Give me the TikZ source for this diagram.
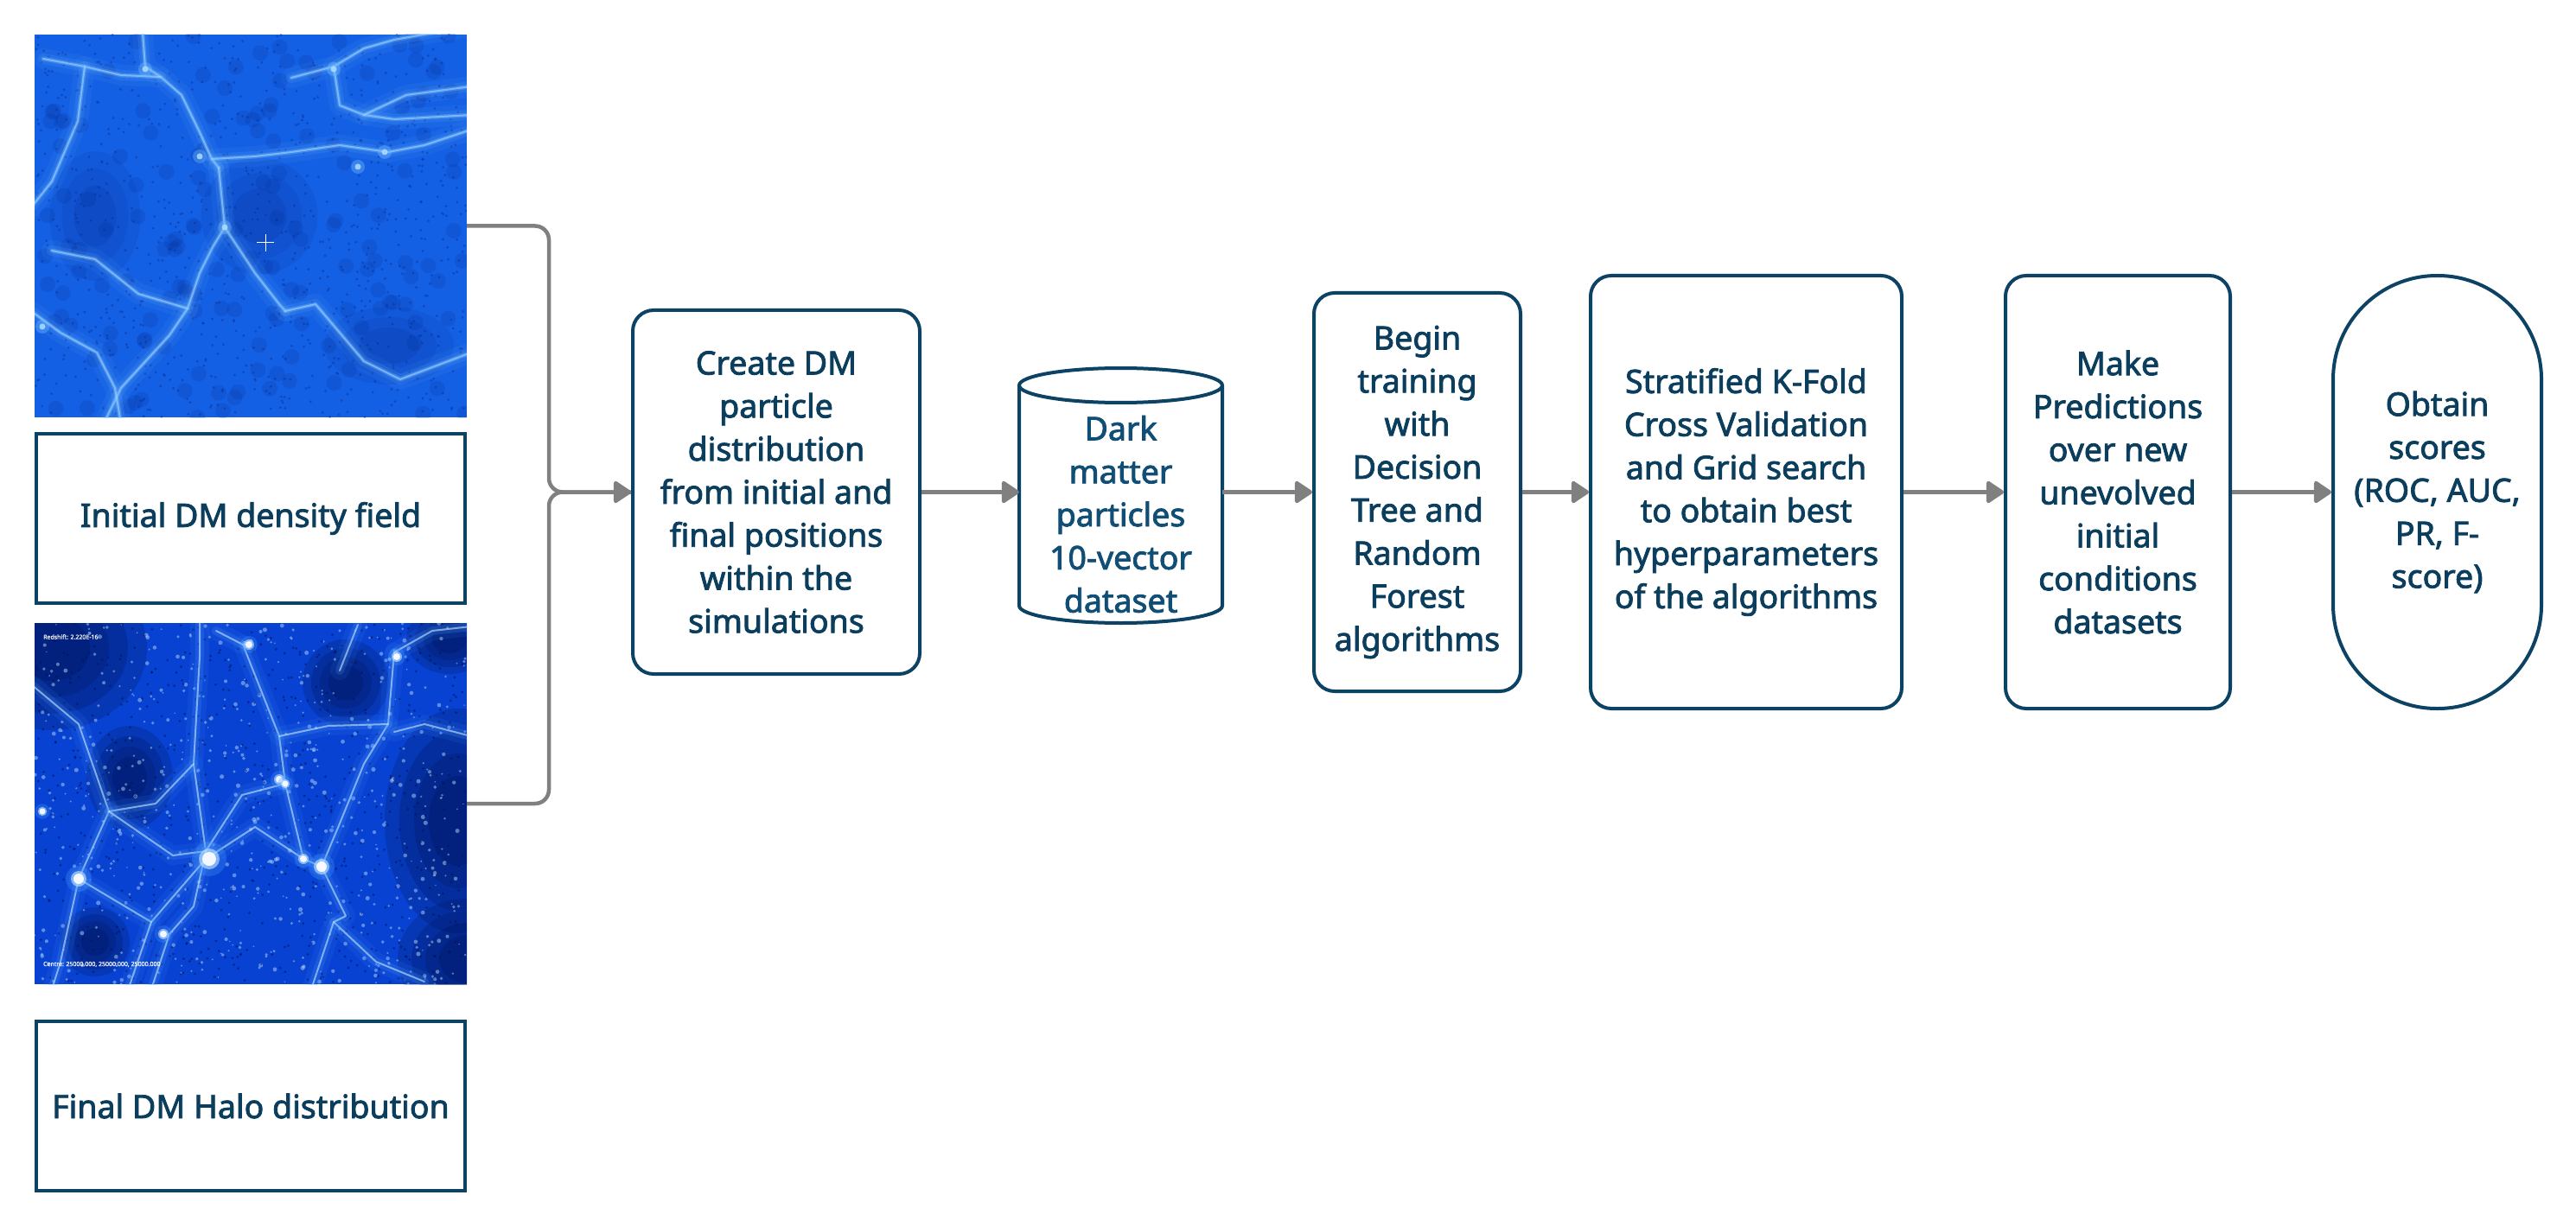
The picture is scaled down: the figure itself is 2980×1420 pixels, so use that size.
\documentclass[tikz,border=0pt]{standalone}
\usepackage{fontspec}
\setmainfont{Noto Sans}[UprightFeatures={FakeBold=2.2}]
\usetikzlibrary{arrows.meta}
\definecolor{textc}{RGB}{11,62,93}
\definecolor{boxc}{RGB}{12,66,100}
\definecolor{cylc}{RGB}{17,78,118}
\definecolor{flowc}{RGB}{128,128,128}
\definecolor{imgA}{RGB}{20,96,228}
\definecolor{imgAdark}{RGB}{6,45,150}
\definecolor{filA}{RGB}{110,185,255}
\definecolor{filAb}{RGB}{175,220,255}
\definecolor{imgB}{RGB}{8,66,210}
\definecolor{imgBdark}{RGB}{0,16,80}
\definecolor{filB}{RGB}{70,150,255}
\definecolor{filBb}{RGB}{200,232,255}
\tikzset{
  txt/.style={text=textc, align=center, font=\fontsize{37.5pt}{49.8pt}\selectfont, inner sep=0pt},
  procbox/.style={txt, draw=boxc, line width=4pt, rounded corners=24pt},
  labelbox/.style={txt, draw=boxc, line width=4pt},
  flow/.style={draw=flowc, line width=4.5pt, -{Triangle[length=22pt,width=28pt,round]}},
  flowplain/.style={draw=flowc, line width=4.5pt},
  imgnode/.style={inner sep=0pt, draw=none},
  haloA/.style={draw=filA, line width=24pt, opacity=0.07, line cap=round, line join=round},
  glowA/.style={draw=filA, line width=12pt, opacity=0.14, line cap=round, line join=round},
  midA/.style={draw=filA, line width=5pt, opacity=0.35, line cap=round, line join=round},
  coreA/.style={draw=filAb, line width=2pt, opacity=0.55, line cap=round, line join=round},
  haloB/.style={draw=filB, line width=22pt, opacity=0.10, line cap=round, line join=round},
  glowB/.style={draw=filB, line width=10pt, opacity=0.22, line cap=round, line join=round},
  coreB/.style={draw=filBb, line width=2pt, opacity=0.6, line cap=round, line join=round},
  darkB/.style={fill=imgBdark, opacity=0.22},
  tinytxt/.style={text=white, font=\fontsize{7pt}{8pt}\selectfont, inner sep=0pt, anchor=west, opacity=0.85}
}
\begin{document}
\begin{tikzpicture}[x=1pt,y=-1pt]
\useasboundingbox (0,0) rectangle (2980,1420);
\fill[white] (0,0) rectangle (2980,1420);

% ---------- top image: initial density field ----------
\node[imgnode, minimum width=500pt, minimum height=443pt, fill=imgA] (img1) at (290,261.5) {};
\begin{scope}
\clip (40,40) rectangle (540,483);
\pgfmathsetseed{4711}
\foreach \i in {1,...,900}{
  \pgfmathsetmacro{\px}{40+500*rnd}
  \pgfmathsetmacro{\py}{40+443*rnd}
  \fill[imgAdark, opacity=0.45] (\px,\py) circle[radius=1.6pt];
}
\foreach \i in {1,...,160}{
  \pgfmathsetmacro{\px}{40+500*rnd}
  \pgfmathsetmacro{\py}{40+443*rnd}
  \fill[imgAdark, opacity=0.18] (\px,\py) circle[radius=9pt];
}
\foreach \r/\o in {75/0.12,55/0.15,35/0.18}{
  \fill[imgAdark, opacity=\o] (450,400) ellipse[x radius=\r pt, y radius=0.6*\r pt];
  \fill[imgAdark, opacity=\o] (300,250) ellipse[x radius=0.9*\r pt, y radius=0.9*\r pt];
  \fill[imgAdark, opacity=\o] (110,250) ellipse[x radius=0.7*\r pt, y radius=\r pt];
}
\foreach \p in {
  {(165,38) -- (168,77) -- (186,89) -- (210,110) -- (231,153) -- (245,184) -- (253,194)},
  {(186,89) -- (140,87) -- (98,77) -- (50,68)},
  {(245,184) -- (295,181) -- (337,176) -- (393,168) -- (449,176) -- (491,168) -- (545,150)},
  {(337,90) -- (386,77) -- (421,56) -- (456,46) -- (545,30)},
  {(386,77) -- (393,122) -- (421,133) -- (456,138) -- (545,133)},
  {(253,194) -- (260,263) -- (246,286) -- (231,316) -- (217,357) -- (196,388) -- (140,449) -- (120,490)},
  {(260,263) -- (295,316) -- (323,352) -- (330,360)},
  {(36,360) -- (70,385) -- (112,408) -- (133,449) -- (140,490)},
  {(330,360) -- (365,352) -- (421,418) -- (463,439) -- (545,408)},
  {(421,133) -- (470,110) -- (545,100)},
  {(98,77) -- (90,140) -- (60,210) -- (36,240)},
  {(217,357) -- (160,340) -- (110,300) -- (60,290)}
}{
  \draw[haloA] \p;
  \draw[glowA] \p;
  \draw[midA] \p;
  \draw[coreA] \p;
}
\foreach \b in {(445,176),(414,193),(231,181),(260,263),(49,378),(168,80),(386,80)}{
  \fill[filA, opacity=0.4] \b circle[radius=8pt];
  \fill[filAb, opacity=0.85] \b circle[radius=3.5pt];
}
\draw[white, line width=1pt] (297,281) -- (317,281) (307,271) -- (307,291);
\end{scope}

\node[labelbox, minimum width=496pt, minimum height=196pt] (initbox) at (290,600) {Initial DM density field};

% ---------- bottom image: final halo distribution ----------
\node[imgnode, minimum width=500pt, minimum height=418pt, fill=imgB] (img2) at (290,930) {};
\begin{scope}
\clip (40,721) rectangle (540,1139);
\foreach \s in {1.0,0.8,0.6,0.4}{
  \fill[darkB] (60,750) ellipse[x radius=110*\s pt, y radius=95*\s pt];
  \fill[darkB] (530,950) ellipse[x radius=85*\s pt, y radius=130*\s pt];
  \fill[darkB] (540,1110) ellipse[x radius=80*\s pt, y radius=70*\s pt];
  \fill[darkB] (400,790) ellipse[x radius=50*\s pt, y radius=50*\s pt];
  \fill[darkB] (150,900) ellipse[x radius=50*\s pt, y radius=60*\s pt];
  \fill[darkB] (520,740) ellipse[x radius=50*\s pt, y radius=40*\s pt];
  \fill[darkB] (110,1090) ellipse[x radius=40*\s pt, y radius=40*\s pt];
}
\pgfmathsetseed{1234}
\foreach \i in {1,...,700}{
  \pgfmathsetmacro{\px}{40+500*rnd}
  \pgfmathsetmacro{\py}{721+418*rnd}
  \pgfmathsetmacro{\rr}{0.8+1.8*rnd}
  \fill[filBb, opacity=0.45] (\px,\py) circle[radius=\rr pt];
}
\foreach \i in {1,...,700}{
  \pgfmathsetmacro{\px}{40+500*rnd}
  \pgfmathsetmacro{\py}{721+418*rnd}
  \fill[imgBdark, opacity=0.5] (\px,\py) circle[radius=1.5pt];
}
\foreach \p in {
  {(231,715) -- (231,760) -- (224,884) -- (238,985) -- (224,1049) -- (196,1081) -- (175,1145)},
  {(281,746) -- (323,852) -- (330,907) -- (351,994) -- (372,1003)},
  {(456,755) -- (449,838) -- (421,884) -- (393,953) -- (372,1003)},
  {(36,792) -- (91,838) -- (126,939) -- (91,1017) -- (70,1113) -- (60,1145)},
  {(91,1017) -- (175,1067) -- (238,994)},
  {(238,994) -- (295,957) -- (351,994)},
  {(393,776) -- (414,723)},
  {(545,852) -- (491,838) -- (456,847)},
  {(386,1067) -- (435,1113) -- (491,1136)},
  {(372,1003) -- (400,1060) -- (386,1067) -- (360,1145)},
  {(323,852) -- (380,840) -- (449,838)},
  {(126,939) -- (180,930) -- (224,884)},
  {(456,755) -- (500,730) -- (545,725)},
  {(281,746) -- (250,730)},
  {(238,985) -- (200,990) -- (126,939)},
  {(175,1067) -- (150,1140)},
  {(330,907) -- (280,920) -- (238,985)}
}{
  \draw[haloB] \p;
  \draw[glowB] \p;
  \draw[coreB] \p;
}
\foreach \b/\r in {(242,994)/8,(91,1017)/6,(372,1003)/6,(288,746)/4,(459,760)/4,(323,902)/4,(189,1081)/4,(49,939)/3.5,(351,994)/4,(330,907)/3.5}{
  \fill[filB, opacity=0.3] \b circle[radius=2.5*\r pt];
  \fill[filBb, opacity=0.6] \b circle[radius=1.5*\r pt];
  \fill[white, opacity=0.9] \b circle[radius=\r pt];
}
\end{scope}
\node[tinytxt] (redshift) at (50,737) {Redshift: 2.220E-16};
\node[tinytxt] (centre) at (50,1116) {Centre: 25000.000, 25000.000, 25000.000};

\node[labelbox, minimum width=496pt, minimum height=196pt] (finalbox) at (290,1280) {Final DM Halo distribution};

% ---------- process nodes ----------
\node[procbox, minimum width=332pt, minimum height=421pt] (create) at (898,569.5)
  {Create DM\\particle\\distribution\\from initial and\\final positions\\within the\\simulations};

% cylinder
\node[inner sep=0pt, minimum width=235pt, minimum height=295pt] (cyl) at (1296.5,573.5) {};
\draw[boxc, line width=4pt, fill=white] (1179,446) -- (1179,701)
  arc[start angle=180, end angle=360, x radius=117.5pt, y radius=20pt] -- (1414,446);
\draw[boxc, line width=4pt] (1296.5,446) ellipse[x radius=117.5pt, y radius=20pt];
\node[txt, text=cylc] (cyltext) at (1296.5,595) {Dark\\matter\\particles\\10-vector\\dataset};

\node[procbox, minimum width=239pt, minimum height=461pt] (begin) at (1639.5,569.5)
  {Begin\\training\\with\\Decision\\Tree and\\Random\\Forest\\algorithms};

\node[procbox, minimum width=360pt, minimum height=501pt] (strat) at (2020,569.5)
  {Stratified K-Fold\\Cross Validation\\and Grid search\\to obtain best\\hyperparameters\\of the algorithms};

\node[procbox, minimum width=260pt, minimum height=501pt] (make) at (2450,569.5)
  {Make\\Predictions\\over new\\unevolved\\initial\\conditions\\datasets};

\node[procbox, rounded corners=120pt, minimum width=241pt, minimum height=501pt] (obtain) at (2819.5,569.5)
  {Obtain\\scores\\(ROC, AUC,\\PR, F-\\score)};

% ---------- connectors ----------
\coordinate (jn) at (635,569.5);
\draw[flowplain, rounded corners=16pt] (img2.east) -| (jn) -- (create.west);
\draw[flow, rounded corners=16pt] (img1.east) -| (jn) -- (create.west);
\draw[flow] (create.east) -- (create.east -| cyl.west);
\draw[flow] (create.east -| cyl.east) -- (begin.west);
\draw[flow] (begin.east) -- (strat.west);
\draw[flow] (strat.east) -- (make.west);
\draw[flow] (make.east) -- (obtain.west);
\end{tikzpicture}
\end{document}
